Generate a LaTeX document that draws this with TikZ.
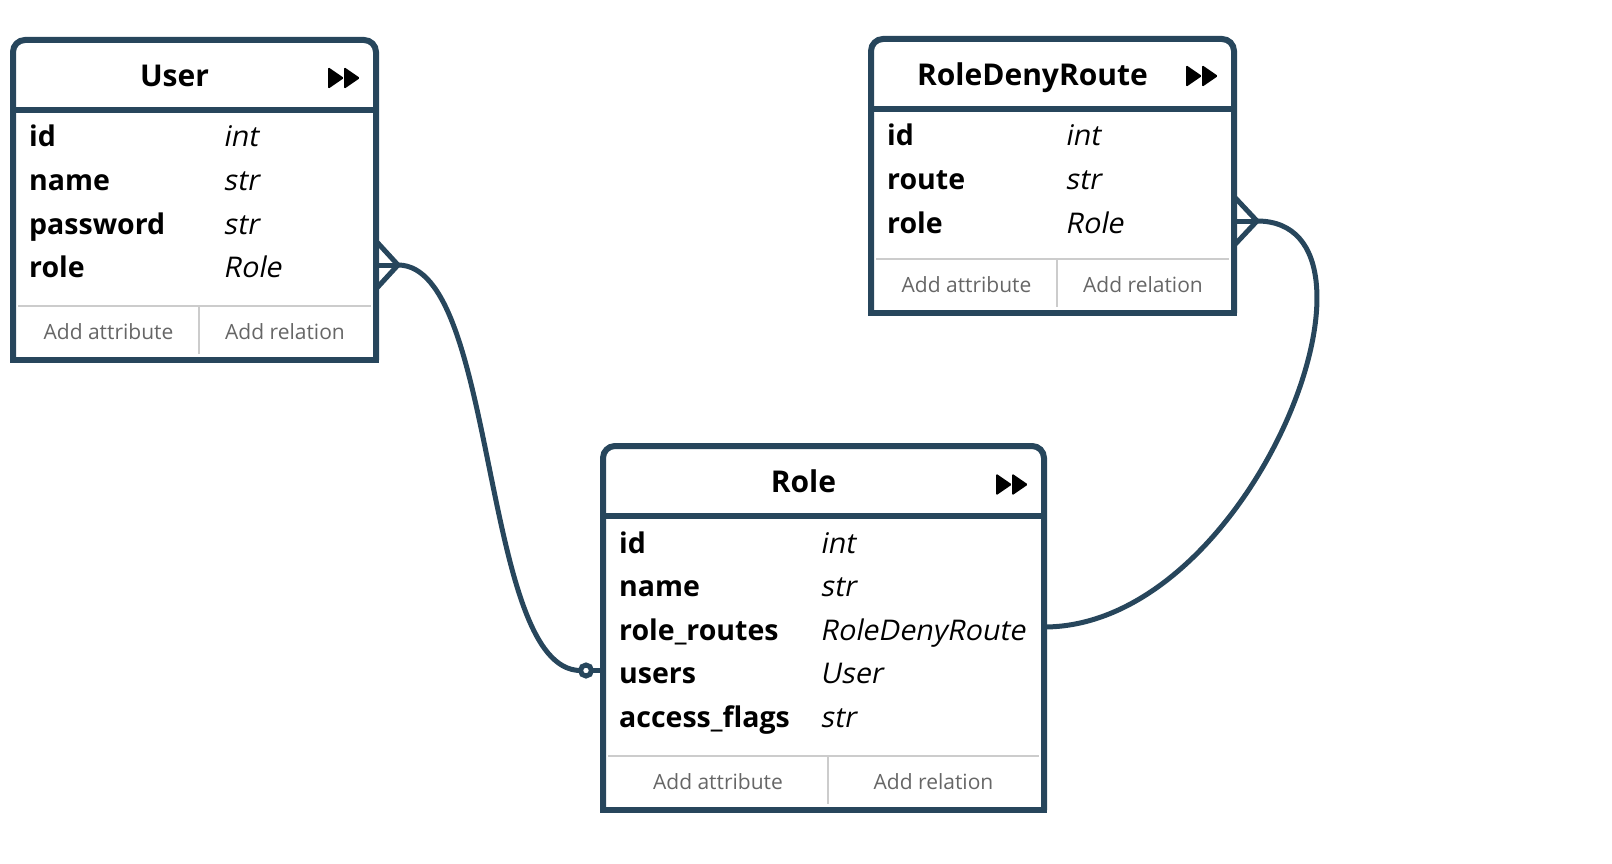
\documentclass[tikz,border=0pt]{standalone}
\usepackage{fontspec}
\setmainfont{Open Sans}[ItalicFont={Open Sans}, ItalicFeatures={FakeSlant=0.2}]
\usetikzlibrary{positioning, calc}
\definecolor{frameblue}{HTML}{27465C}
\definecolor{addgray}{HTML}{666666}
\definecolor{linegray}{HTML}{CCCCCC}
\newcommand{\fieldsize}{\fontsize{28.5pt}{34pt}\selectfont}
\newcommand{\titlesize}{\fontsize{30pt}{36pt}\selectfont}
\newcommand{\addsize}{\fontsize{21pt}{25pt}\selectfont}

\begin{document}
\begin{tikzpicture}[x=1pt, y=-1pt,
    box/.style={inner sep=0pt, outer sep=0pt, anchor=north west},
    frame/.style={draw=frameblue, line width=6pt},
    link/.style={draw=frameblue, line width=5pt},
    grayline/.style={draw=linegray, line width=2pt},
    title/.style={inner sep=0pt, anchor=base, font=\titlesize\bfseries},
    field/.style={inner sep=0pt, anchor=base west, font=\fieldsize\bfseries},
    ftype/.style={inner sep=0pt, anchor=base west, font=\fieldsize\itshape},
    addbtn/.style={inner sep=0pt, text=addgray, font=\addsize},
    ffwd/.pic={
        \fill[rounded corners=1.5pt] (0,-11) -- (16,0) -- (0,11) -- cycle;
        \fill[rounded corners=1.5pt] (16,-11) -- (32,0) -- (16,11) -- cycle;
    }]
    \useasboundingbox (0,0) rectangle (1612,864);

    % User
    \node[box, minimum width=363pt, minimum height=320pt] (user) at (13,40) {};
    \draw[frame, rounded corners=12pt] (user.south west) -- (user.north west) -- (user.north east) -- (user.south east);
    \draw[frame, line cap=rect] (user.south west) -- (user.south east);
    \draw[frame] ([yshift=-70pt]user.north west) -- ([yshift=-70pt]user.north east);
    \node[title] (user-title) at ([xshift=-20pt, yshift=-46.5pt]user.north) {User};
    \pic at ([xshift=-48pt, yshift=-38pt]user.north east) {ffwd};
    \node[field] (user-id) at ([xshift=16pt, yshift=-107pt]user.north west) {id};
    \node[field] (user-name) at ([yshift=-43.5pt]user-id.base west) {name};
    \node[field] (user-password) at ([yshift=-43.5pt]user-name.base west) {password};
    \node[field] (user-role) at ([yshift=-43.5pt]user-password.base west) {role};
    \node[ftype] (user-id-type) at ([xshift=194pt]user-id.base west) {int};
    \node[ftype] (user-name-type) at ([xshift=194pt]user-name.base west) {str};
    \node[ftype] (user-password-type) at ([xshift=194pt]user-password.base west) {str};
    \node[ftype] (user-role-type) at ([xshift=194pt]user-role.base west) {Role};
    \draw[grayline] ([xshift=5pt, yshift=54pt]user.south west) -- ([xshift=-5pt, yshift=54pt]user.south east);
    \draw[grayline] ([xshift=4.5pt, yshift=54pt]user.south) -- ([xshift=4.5pt, yshift=6pt]user.south);
    \node[addbtn] (user-addattr) at ([xshift=4.75pt, yshift=28pt]$(user.south west)!0.5!(user.south)$) {Add attribute};
    \node[addbtn] (user-addrel) at ([xshift=-0.25pt, yshift=28pt]$(user.south)!0.5!(user.south east)$) {Add relation};

    % RoleDenyRoute
    \node[box, minimum width=363pt, minimum height=274pt] (rdr) at (871,39) {};
    \draw[frame, rounded corners=12pt] (rdr.south west) -- (rdr.north west) -- (rdr.north east) -- (rdr.south east);
    \draw[frame, line cap=rect] (rdr.south west) -- (rdr.south east);
    \draw[frame] ([yshift=-70pt]rdr.north west) -- ([yshift=-70pt]rdr.north east);
    \node[title] (rdr-title) at ([xshift=-20pt, yshift=-46.5pt]rdr.north) {RoleDenyRoute};
    \pic at ([xshift=-48pt, yshift=-37pt]rdr.north east) {ffwd};
    \node[field] (rdr-id) at ([xshift=16pt, yshift=-107pt]rdr.north west) {id};
    \node[field] (rdr-route) at ([yshift=-43.5pt]rdr-id.base west) {route};
    \node[field] (rdr-role) at ([yshift=-43.5pt]rdr-route.base west) {role};
    \node[ftype] (rdr-id-type) at ([xshift=178pt]rdr-id.base west) {int};
    \node[ftype] (rdr-route-type) at ([xshift=178pt]rdr-route.base west) {str};
    \node[ftype] (rdr-role-type) at ([xshift=178pt]rdr-role.base west) {Role};
    \draw[grayline] ([xshift=5pt, yshift=54pt]rdr.south west) -- ([xshift=-5pt, yshift=54pt]rdr.south east);
    \draw[grayline] ([xshift=4.5pt, yshift=54pt]rdr.south) -- ([xshift=4.5pt, yshift=6pt]rdr.south);
    \node[addbtn] (rdr-addattr) at ([xshift=4.75pt, yshift=28pt]$(rdr.south west)!0.5!(rdr.south)$) {Add attribute};
    \node[addbtn] (rdr-addrel) at ([xshift=-0.25pt, yshift=28pt]$(rdr.south)!0.5!(rdr.south east)$) {Add relation};

    % Role
    \node[box, minimum width=441pt, minimum height=364pt] (role) at (603,446) {};
    \draw[frame, rounded corners=12pt] (role.south west) -- (role.north west) -- (role.north east) -- (role.south east);
    \draw[frame, line cap=rect] (role.south west) -- (role.south east);
    \draw[frame] ([yshift=-70pt]role.north west) -- ([yshift=-70pt]role.north east);
    \node[title] (role-title) at ([xshift=-20pt, yshift=-46.5pt]role.north) {Role};
    \pic at ([xshift=-48pt, yshift=-38.5pt]role.north east) {ffwd};
    \node[field] (role-id) at ([xshift=16pt, yshift=-107pt]role.north west) {id};
    \node[field] (role-name) at ([yshift=-43.5pt]role-id.base west) {name};
    \node[field] (role-routes) at ([yshift=-43.5pt]role-name.base west) {role\_routes};
    \node[field] (role-users) at ([yshift=-43.5pt]role-routes.base west) {users};
    \node[field] (role-flags) at ([yshift=-43.5pt]role-users.base west) {access\_flags};
    \node[ftype] (role-id-type) at ([xshift=201pt]role-id.base west) {int};
    \node[ftype] (role-name-type) at ([xshift=201pt]role-name.base west) {str};
    \node[ftype] (role-routes-type) at ([xshift=201pt]role-routes.base west) {RoleDenyRoute};
    \node[ftype] (role-users-type) at ([xshift=201pt]role-users.base west) {User};
    \node[ftype] (role-flags-type) at ([xshift=201pt]role-flags.base west) {str};
    \draw[grayline] ([xshift=5pt, yshift=54pt]role.south west) -- ([xshift=-5pt, yshift=54pt]role.south east);
    \draw[grayline] ([xshift=4.5pt, yshift=54pt]role.south) -- ([xshift=4.5pt, yshift=6pt]role.south);
    \node[addbtn] (role-addattr) at ([xshift=4.75pt, yshift=28pt]$(role.south west)!0.5!(role.south)$) {Add attribute};
    \node[addbtn] (role-addrel) at ([xshift=-0.25pt, yshift=28pt]$(role.south)!0.5!(role.south east)$) {Add relation};

    % User.role -> Role.users
    \coordinate (user-out) at ($(user-role.base -| user.east) + (0,-12.5)$);
    \coordinate (user-foot) at ($(user-out) + (22,0)$);
    \draw[link] ($(user-out) + (0,-24)$) -- (user-foot) -- ($(user-out) + (0,24)$);
    \draw[link] (user-out) -- (user-foot);
    \node[circle, draw=frameblue, line width=5pt, minimum size=11pt, inner sep=0pt, outer sep=0pt] (role-dot) at ($(role-users.base -| role.west) + (-17,-13)$) {};
    \draw[link] (role-dot.east) -- (role-dot.east -| role.west);
    \draw[link] (user-foot) .. controls +(100,0) and +(-100,0) .. (role-dot.west);

    % RoleDenyRoute.role -> Role.role_routes
    \coordinate (rdr-out) at ($(rdr-role.base -| rdr.east) + (0,-12)$);
    \coordinate (rdr-foot) at ($(rdr-out) + (23,0)$);
    \draw[link] ($(rdr-out) + (0,-24.5)$) -- (rdr-foot) -- ($(rdr-out) + (0,24.5)$);
    \draw[link] (rdr-out) -- (rdr-foot);
    \coordinate (role-in) at ($(role-routes.base -| role.east) + (0,-13)$);
    \draw[link] (rdr-foot) .. controls +(150,0) and +(209,0) .. (role-in);
\end{tikzpicture}
\end{document}
